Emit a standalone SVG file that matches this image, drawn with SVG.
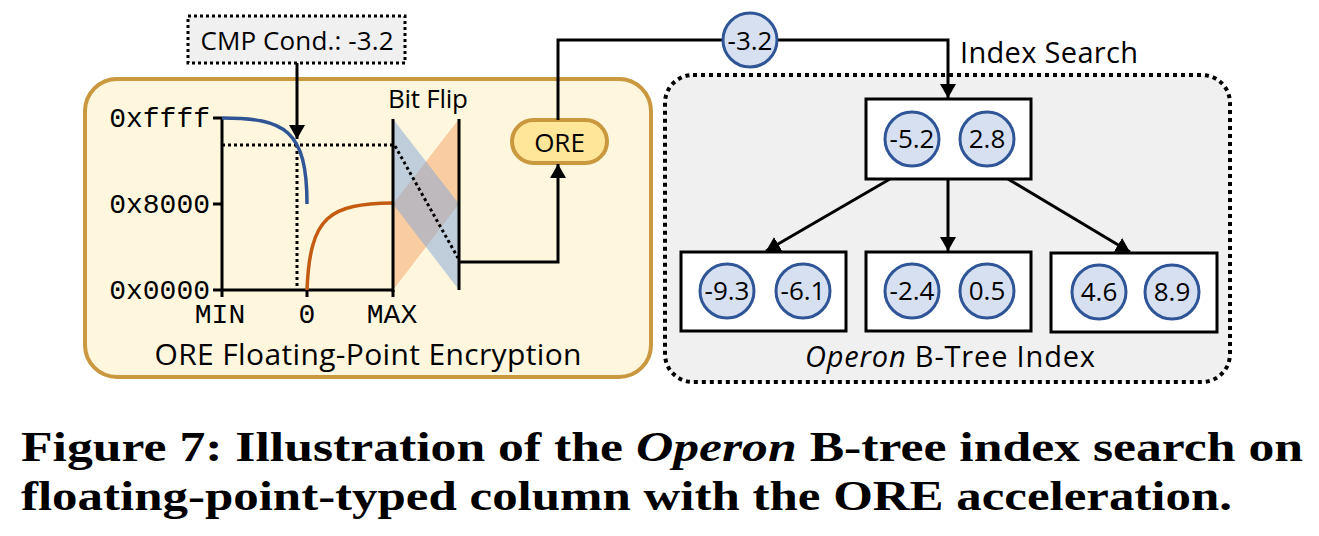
<svg xmlns="http://www.w3.org/2000/svg" width="1319" height="536" viewBox="0 0 1319 536">
<defs>
<marker id="ah" viewBox="0 0 14 16" refX="14" refY="8" markerWidth="14" markerHeight="16" markerUnits="userSpaceOnUse" orient="auto"><path d="M0,0 L14,8 L0,16 z" fill="#000"/></marker>
<style>
.s{font-family:"Open Sans","Liberation Sans",sans-serif;fill:#000}
.m{font-family:"Liberation Mono","DejaVu Sans Mono",monospace;font-size:28px;fill:#000}
.cap{font-family:"Liberation Serif","DejaVu Serif",serif;font-weight:bold;font-size:42px;fill:#000}
.ln{fill:none;stroke:#000;stroke-width:3}
.dot{fill:none;stroke:#000;stroke-width:3;stroke-dasharray:3 3}
.key{fill:#D6E0F0;stroke:#2F5597;stroke-width:3}
.kt{font-family:"Open Sans","Liberation Sans",sans-serif;font-size:26px;fill:#000;text-anchor:middle}
.node{fill:#fff;stroke:#000;stroke-width:3}
</style>
</defs>
<rect width="1319" height="536" fill="#fff"/>

<g id="ore-panel">
<rect x="85" y="79" width="566" height="298" rx="32" fill="#FEF7DE" stroke="#C9983F" stroke-width="4"/>
<text class="s" x="368" y="365" font-size="30" text-anchor="middle" textLength="427">ORE Floating-Point Encryption</text>
</g>

<g id="btree-panel">
<rect x="665" y="75" width="565" height="307" rx="28" fill="#F0F0F0" stroke="#000" stroke-width="4" stroke-dasharray="4 4"/>
<text class="s" x="950" y="367" font-size="29" text-anchor="middle" textLength="290"><tspan font-style="italic">Operon</tspan> B-Tree Index</text>
</g>

<g id="cmp-cond">
<rect x="188" y="16" width="217" height="47" fill="#F0F0F0" stroke="#000" stroke-width="3" stroke-dasharray="3 3"/>
<text class="s" x="297" y="50" font-size="26" text-anchor="middle" textLength="193">CMP Cond.: -3.2</text>
</g>

<g id="chart">
<text class="m" x="210" y="127" text-anchor="end">0xffff</text>
<text class="m" x="210" y="213" text-anchor="end">0x8000</text>
<text class="m" x="210" y="299" text-anchor="end">0x0000</text>
<text class="m" x="220" y="323" text-anchor="middle">MIN</text>
<text class="m" x="307" y="323" text-anchor="middle">0</text>
<text class="m" x="392" y="323" text-anchor="middle">MAX</text>
<path class="ln" d="M222,117 V290 H393 M213,118 H222 M213,204 H222 M213,290 H222 M222,290 V297 M307,290 V297 M393,290 V297"/>
<path class="dot" d="M222,145 H393 M297,145 V290"/>
<path d="M222,118 C285,118 307,130 307,204" fill="none" stroke="#2F5597" stroke-width="3.5"/>
<path d="M307,290 C310,215 330,204 393,203" fill="none" stroke="#C55A11" stroke-width="3.5"/>
</g>

<g id="bit-flip">
<polygon points="459,119 459,204 393,290 393,204" fill="#F5AF78" fill-opacity="0.6"/>
<polygon points="393,119 459,204 459,290 393,204" fill="#82A5D7" fill-opacity="0.5"/>
<path class="ln" d="M393,119 V292 M459,119 V290"/>
<path class="dot" d="M395,146 L458,258"/>
<text class="s" x="428" y="108" font-size="26" text-anchor="middle" textLength="80">Bit Flip</text>
</g>

<g id="ore">
<rect x="512" y="120" width="95" height="43" rx="21.5" fill="#FFE699" stroke="#C9983F" stroke-width="4"/>
<text class="s" x="559.5" y="152" font-size="26" text-anchor="middle">ORE</text>
</g>

<g id="connectors">
<path class="ln" d="M297,63 V139" marker-end="url(#ah)"/>
<path class="ln" d="M459,262 H558 V164" marker-end="url(#ah)"/>
<path class="ln" d="M558,120 V40 H948 V98" marker-end="url(#ah)"/>
<path class="ln" d="M890,179 L766,251" marker-end="url(#ah)"/>
<path class="ln" d="M948,179 V251" marker-end="url(#ah)"/>
<path class="ln" d="M1008,179 L1130,252" marker-end="url(#ah)"/>
</g>

<g id="query-key">
<circle class="key" cx="750" cy="40" r="27"/>
<text class="kt" x="750" y="50">-3.2</text>
</g>

<text id="index-search" class="s" x="960" y="63" font-size="29" textLength="178">Index Search</text>

<g id="root-node">
<rect class="node" x="866" y="99" width="165" height="80"/>
<circle class="key" cx="912" cy="139" r="27"/>
<text class="kt" x="912" y="148">-5.2</text>
<circle class="key" cx="987" cy="139" r="27"/>
<text class="kt" x="987" y="148">2.8</text>
</g>

<g id="leaf-left">
<rect class="node" x="681" y="252" width="165" height="79"/>
<circle class="key" cx="727" cy="291" r="27"/>
<text class="kt" x="727" y="300">-9.3</text>
<circle class="key" cx="803" cy="291" r="27"/>
<text class="kt" x="803" y="300">-6.1</text>
</g>

<g id="leaf-mid">
<rect class="node" x="866" y="252" width="165" height="79"/>
<circle class="key" cx="912" cy="291" r="27"/>
<text class="kt" x="912" y="300">-2.4</text>
<circle class="key" cx="987" cy="291" r="27"/>
<text class="kt" x="987" y="300">0.5</text>
</g>

<g id="leaf-right">
<rect class="node" x="1051" y="253" width="166" height="79"/>
<circle class="key" cx="1099" cy="292" r="27"/>
<text class="kt" x="1099" y="301">4.6</text>
<circle class="key" cx="1172" cy="292" r="27"/>
<text class="kt" x="1172" y="301">8.9</text>
</g>

<g id="caption">
<text class="cap" x="21" y="461" textLength="1282" lengthAdjust="spacingAndGlyphs">Figure 7: Illustration of the <tspan font-style="italic">Operon</tspan> B-tree index search on</text>
<text class="cap" x="21" y="510" textLength="1211" lengthAdjust="spacingAndGlyphs">floating-point-typed column with the ORE acceleration.</text>
</g>
</svg>
